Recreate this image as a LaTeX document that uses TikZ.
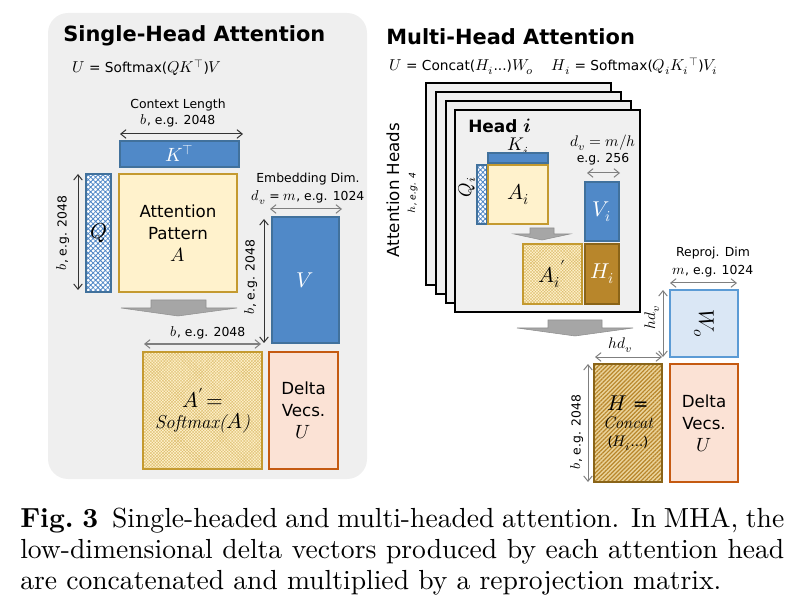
\documentclass[tikz,border=0pt]{standalone}
\usepackage{fontspec}
\usepackage{unicode-math}
\setmainfont{DejaVu Sans}
\setsansfont{DejaVu Sans}
\setmathfont{Latin Modern Math}[Scale=1.15]
\newfontfamily\lmr{Latin Modern Roman}
\usetikzlibrary{arrows.meta,patterns.meta}
\definecolor{panelgray}{HTML}{EFEFEF}
\definecolor{kblue}{HTML}{5089C8}
\definecolor{kblueb}{HTML}{41719C}
\definecolor{qblue}{HTML}{4F86C6}
\definecolor{ayel}{HTML}{FFF2CC}
\definecolor{ayelb}{HTML}{C49A30}
\definecolor{adot}{HTML}{DDBE70}
\definecolor{peach}{HTML}{FBE2D5}
\definecolor{peachb}{HTML}{C55A11}
\definecolor{hgold}{HTML}{B8862B}
\definecolor{hgoldb}{HTML}{8A6418}
\definecolor{hlight}{HTML}{EAD39A}
\definecolor{wol}{HTML}{DAE7F5}
\definecolor{wob}{HTML}{5B9BD5}
\definecolor{bigarr}{HTML}{A6A6A6}
\definecolor{bigarrb}{HTML}{909090}
\definecolor{dimg}{HTML}{7F7F7F}
\definecolor{dimd}{HTML}{333333}
\definecolor{cardfill}{HTML}{F0F0F0}
\font\capfont="[lmroman10-regular]:+tlig;" at 20.7pt
\font\capbold="[lmroman10-bold]:+tlig;" at 20.7pt
\newcommand\fsTitle{\fontsize{15.7}{18}\selectfont\bfseries}
\newcommand\fsLab{\fontsize{9.3}{11}\selectfont}
\newcommand\fsBox{\fontsize{12.5}{16.5}\selectfont}
\newcommand\fsForm{\fontsize{10.3}{12}\selectfont}
\newcommand\fsM{\fontsize{14}{16.5}\selectfont}
\newcommand\bx[7]{%
  \pgfmathsetmacro\bxw{(#5-#3)*0.75}%
  \pgfmathsetmacro\bxh{(#6-#4)*0.75}%
  \node[#2, minimum width=\bxw pt, minimum height=\bxh pt] (#1) at ({(#3+#5)/2},{(#4+#6)/2}) {#7};}
\tikzset{
  mbox/.style={draw, line width=0.9pt, inner sep=0pt, align=center},
  bluebox/.style={mbox, fill=kblue, draw=kblueb, text=white},
  qbox/.style={mbox, preaction={fill=white}, pattern={Hatch[angle=45,distance=2.6pt,line width=0.6pt]}, pattern color=qblue, draw=kblueb},
  abox/.style={mbox, fill=ayel, draw=ayelb},
  apbox/.style={mbox, preaction={fill=ayel}, pattern={Hatch[angle=45,distance=1.6pt,line width=0.3pt]}, pattern color=adot, draw=ayelb},
  ubox/.style={mbox, fill=peach, draw=peachb},
  hibox/.style={mbox, fill=hgold, draw=hgoldb, text=white},
  hbox/.style={mbox, preaction={fill=hlight}, pattern={Lines[angle=45,distance=2.2pt,line width=0.9pt]}, pattern color=hgold, draw=hgoldb},
  wobox/.style={mbox, fill=wol, draw=wob},
  card/.style={draw=black, line width=1pt, fill=cardfill, inner sep=0pt},
  panel/.style={fill=panelgray, rounded corners=15pt, inner sep=0pt},
  lab/.style={font=\fsLab, inner sep=0pt},
  dimarr/.style={{Straight Barb[length=4pt,width=6.5pt]}-{Straight Barb[length=4pt,width=6.5pt]}, line width=0.75pt, draw=#1},
  bigarrow/.style={fill=bigarr, draw=bigarrb, line width=0.4pt},
}
\begin{document}
\begin{tikzpicture}[x=0.75pt,y=-0.75pt]
\useasboundingbox (0,0) rectangle (806,616);
% ---------- left panel ----------
\bx{panel}{panel}{48}{13}{367}{479}{}
\node[anchor=base west, font=\fsTitle, inner sep=0pt] (t1) at (63,42) {Single-Head Attention};
\node[anchor=base west, font=\fsForm, inner sep=0pt] (f1) at (72,73) {$U$ = Softmax($QK^{\top}$)$V$};
\node[lab, anchor=base] (cl1) at (178,109) {Context Length};
\node[lab, anchor=base] (cl2) at (178,125) {$b$, e.g. 2048};
\coordinate (ca1) at (120,134); \coordinate (ca2) at (243,134);
\draw[dimarr=dimd] (ca1) -- (ca2);
\bx{KT}{bluebox,font=\fsBox}{120}{141}{239}{167}{$K^{\top}$}
\bx{Q}{qbox,font=\fsM}{86}{174}{111}{292}{$Q$}
\bx{A}{abox,font=\fsBox}{119}{174}{237}{292}{Attention\\Pattern\\$A$}
\coordinate (qa1) at (78,174); \coordinate (qa2) at (78,290);
\draw[dimarr=dimd] (qa1) -- (qa2);
\node[lab, rotate=90] (ql) at (63,233) {$b$, e.g. 2048};
\node[lab, anchor=base] (ed1) at (308,183) {Embedding Dim.};
\node[lab, anchor=base] (ed2) at (308,201) {$d_v$ = $m$, e.g. 1024};
\coordinate (ea1) at (270,209); \coordinate (ea2) at (342,209);
\draw[dimarr=dimg] (ea1) -- (ea2);
\bx{V}{bluebox,font=\fsM}{272}{217}{339}{343}{$V$}
\coordinate (va1) at (264,219); \coordinate (va2) at (264,343);
\draw[dimarr=dimd] (va1) -- (va2);
\node[lab, rotate=90] (vl) at (251,277) {$b$, e.g. 2048};
\draw[bigarrow] (151,300) -- (206,300) -- (206,308) -- (237,308) -- (178,316) -- (121,308) -- (151,308) -- cycle;
\node[lab, anchor=base] (bl) at (208,336) {$b$, e.g. 2048};
\coordinate (ba1) at (144,344); \coordinate (ba2) at (261,344);
\draw[dimarr=dimg] (ba1) -- (ba2);
\bx{Ap}{apbox,font=\fsM}{143}{352}{262}{469}{$A'\!=$\\[-1pt] {\lmr\itshape Softmax(}$A${\lmr\itshape )}}
\bx{U1}{ubox,font=\fsBox}{269}{352}{338}{469}{Delta\\Vecs.\\$U$}
% ---------- right panel ----------
\node[anchor=base west, font=\fsTitle, inner sep=0pt] (t2) at (386,45) {Multi-Head Attention};
\node[anchor=base west, font=\fsForm, inner sep=0pt] (f2) at (389,71) {$U$ = Concat($H_i$...)$W_o$\quad\ $H_i$ = Softmax($Q_iK_i{}^{\top}$)$V_i$};
\bx{c1}{card}{426}{83}{611}{285}{}
\bx{c2}{card}{436}{92}{621}{294}{}
\bx{c3}{card}{446}{101}{631}{303}{}
\bx{c4}{card}{455}{110}{640}{312}{}
\node[font=\fsBox, rotate=90, inner sep=0pt] (ah) at (393,190) {Attention Heads};
\node[font=\fontsize{6.9}{8}\selectfont\itshape, rotate=90, inner sep=0pt] (ah2) at (413,193) {$h$, e.g. 4};
\node[anchor=base west, font=\fontsize{12.7}{15}\selectfont\bfseries, inner sep=0pt] (hi) at (468,133) {Head $\symbfit{i}$};
\node[anchor=base, font=\fontsize{12}{14}\selectfont, inner sep=0pt] (kil) at (518,151) {$K_i$};
\bx{Ki}{bluebox}{488}{153}{548}{163}{}
\bx{Qi}{qbox}{477}{165}{487}{224}{}
\bx{Ai}{abox,font=\fsM}{488}{165}{548}{224}{$A_i$}
\node[font=\fontsize{12}{14}\selectfont, rotate=90, inner sep=0pt] (qil) at (467,187) {$Q_i$};
\draw[bigarrow] (530,228) -- (554,228) -- (554,234) -- (570,234) -- (542,240) -- (514,234) -- (530,234) -- cycle;
\bx{Aip}{apbox,font=\fsM}{523}{244}{582}{304}{${A_i}'$}
\bx{Hi}{hibox,font=\fsM}{585}{244}{619}{304}{$H_i$}
\bx{Vi}{bluebox,font=\fsM}{585}{182}{619}{241}{$V_i$}
\node[anchor=base, font=\fontsize{10}{12}\selectfont, inner sep=0pt] (dv1) at (603,147) {$d_v = m/h$};
\node[lab, anchor=base] (dv2) at (603,163) {e.g. 256};
\coordinate (da1) at (587,173); \coordinate (da2) at (620,173);
\draw[dimarr=dimg] (da1) -- (da2);
\draw[bigarrow] (548,320) -- (602,320) -- (602,328) -- (633,328) -- (575,336) -- (517,328) -- (548,328) -- cycle;
\node[lab, anchor=base] (rp1) at (713,257) {Reproj. Dim};
\node[lab, anchor=base] (rp2) at (713,275) {$m$, e.g. 1024};
\coordinate (ra1) at (670,283); \coordinate (ra2) at (737,283);
\draw[dimarr=dimg] (ra1) -- (ra2);
\bx{Wo}{wobox}{670}{290}{738}{357}{}
\node[rotate=-90, font=\fsM, inner sep=0pt] (wol) at (Wo.center) {$W_o$};
\node[rotate=90, font=\fontsize{10}{12}\selectfont, inner sep=0pt] (hdl1) at (652,318) {$hd_v$};
\coordinate (wa1) at (663,290); \coordinate (wa2) at (663,357);
\draw[dimarr=dimg] (wa1) -- (wa2);
\node[anchor=base, font=\fontsize{10}{12}\selectfont, inner sep=0pt] (hdl2) at (620,349) {$hd_v$};
\coordinate (ha1) at (595,357); \coordinate (ha2) at (662,357);
\draw[dimarr=dimg] (ha1) -- (ha2);
\bx{H}{hbox,font=\fsM}{594}{364}{662}{482}{$H$ =\\[-3pt] {\fontsize{12.5}{14}\selectfont\lmr\itshape Concat}\\[-3pt] {\fontsize{10}{12}\selectfont ($H_i$...)}}
\bx{U2}{ubox,font=\fsBox}{670}{364}{738}{482}{Delta\\Vecs.\\$U$}
\coordinate (hb1) at (588,364); \coordinate (hb2) at (588,482);
\draw[dimarr=dimg] (hb1) -- (hb2);
\node[lab, rotate=90] (hbl) at (577,432) {$b$, e.g. 2048};
% ---------- caption ----------
\node[anchor=base west, inner sep=0pt] (cap1) at (20,527) {\makebox[573pt][s]{{\capbold Fig.~3}\capfont\enspace Single-headed and multi-headed attention. In MHA, the}};
\node[anchor=base west, inner sep=0pt] (cap2) at (20,558) {\makebox[573pt][s]{\capfont low-dimensional delta vectors produced by each attention head}};
\node[anchor=base west, inner sep=0pt] (cap3) at (20,589) {\capfont are concatenated and multiplied by a reprojection matrix.};
\end{tikzpicture}
\end{document}
